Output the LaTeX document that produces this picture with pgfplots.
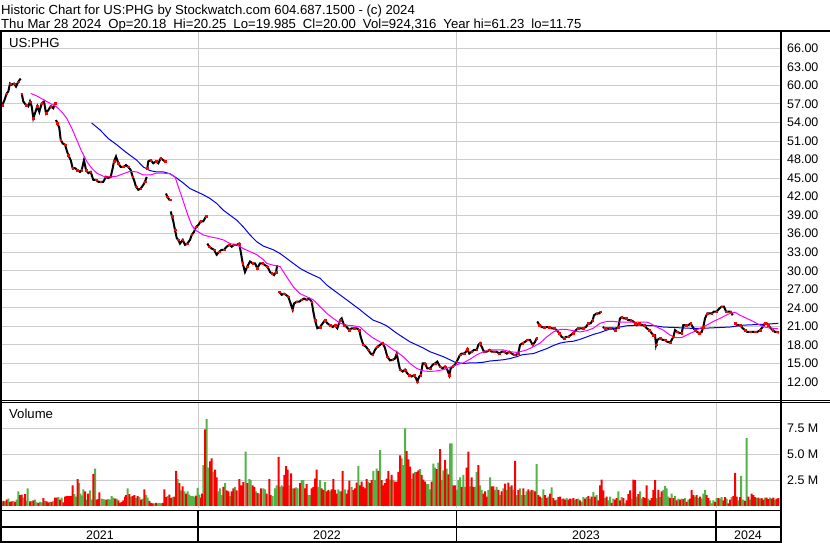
\documentclass[border=0pt]{standalone}
\usepackage{fontspec}
\setmainfont{Liberation Sans}
\usepackage{pgfplots}
\usepackage{pgfplotstable}
\pgfplotsset{compat=1.18}
\definecolor{gridgray}{RGB}{204,204,204}
\definecolor{vgreen}{RGB}{80,180,70}
\definecolor{vred}{RGB}{250,0,0}
\definecolor{mamag}{RGB}{255,0,255}
\definecolor{mablue}{RGB}{0,0,235}
\newcommand\ff{\fontsize{12.5}{14}\selectfont}
\newcommand\ft{\fontsize{13.2}{15}\selectfont}

\pgfplotstableread{
x y
2 56.8
4 57.4
6.7 58.7
8.3 59.0
10 60.3
11.7 60.1
14 60.3
16 59.8
18.3 60.6
20.7 61.1
21.2 nan
21.7 58.7
23.3 57.4
26 56.8
28.3 56.6
30 57.4
31.7 56.6
33.3 54.7
35 55.5
37.3 56.6
39.3 55.7
41.7 57.1
44 57.4
46 55.5
48.3 56.0
50.7 56.6
53.3 56.3
55 57.1
55.5 nan
56 54.4
57.3 53.9
59.3 53.1
60.7 51.2
62.7 50.6
65 50.4
66.7 49.5
68.3 48.7
70.7 47.9
72.7 46.6
75 46.6
77.3 46.3
80 46.0
81.7 46.3
84 47.9
86 46.3
88.3 45.8
90.7 46.0
93.3 44.7
96 44.7
98.3 44.4
100.7 44.4
103.3 44.4
106 45.2
108.3 45.0
110.7 45.2
112.7 46.6
114 47.7
116 48.5
118.3 47.4
120.7 46.8
123.3 46.8
126 47.1
128.3 46.8
130.7 46.3
132.7 45.2
134 44.7
136 43.6
138.3 43.1
140.7 43.3
143.3 43.9
145 44.4
146.7 45.2
147 nan
147.3 46.6
148.3 47.7
150.7 47.9
153.3 47.4
156 47.7
158.3 47.4
160.7 48.2
163.3 47.9
165 47.7
165.5 nan
166 42.5
167.3 42.0
169.3 41.5
170 41.5
170.3 nan
170.7 39.6
172 38.8
173.3 38.0
175 36.6
176.7 35.3
178.3 35.0
180 34.4
182.7 35.0
185 34.2
187.3 34.4
190 35.0
191.7 35.8
194 36.3
196 37.1
198.3 37.4
200.7 38.0
203.3 38.0
206 38.8
206.6 nan
207.3 34.4
209.3 33.9
211.7 33.6
214 33.4
216.7 32.6
219.3 33.1
221.7 33.4
224 33.4
226.7 33.9
229.3 34.2
231.7 33.9
234 34.2
236.7 34.2
239.3 34.4
240.7 33.1
242.7 31.2
245 29.8
247.3 30.7
250 31.5
252.7 31.2
255 31.2
257.3 30.4
260 31.2
262.7 31.2
265 30.9
267.3 30.7
270 29.8
271.7 29.6
274 29.3
276 29.8
277.3 30.9
278.3 nan
279.3 26.6
281.7 26.1
284 26.3
286 26.1
288.3 25.8
290 25.0
292.7 23.7
294 24.7
296.7 25.0
299.3 25.0
301.7 25.3
304 25.5
306.7 25.3
309.3 25.5
311.7 25.0
313.3 23.4
315 22.0
317.3 20.7
320 20.9
322.7 21.5
325 22.0
327.3 21.5
330 21.2
332.7 20.9
335 21.2
337.3 20.7
340 22.0
341.7 22.3
344 21.2
346.7 20.9
349.3 20.4
351.7 20.7
354 20.7
356.7 20.7
359.3 20.4
360.7 19.3
363.3 18.0
366 17.7
368.3 17.2
370.7 16.6
372.7 16.4
375 17.2
377.3 17.7
380 18.0
382.7 18.3
385 17.5
387.3 16.1
390 15.5
392.7 15.6
395 15.8
396.7 16.6
398.3 15.3
400 14.0
402.7 13.7
405 14.0
407.3 13.4
409.3 13.1
411.7 12.9
414 13.1
416 12.6
417.3 12.1
419.3 12.9
420.7 13.1
422.7 15.0
425 15.0
427.3 14.2
430 14.2
432.7 14.8
435 15.0
437.3 15.3
440 14.5
442.7 14.2
445 14.5
447.3 14.0
449.3 13.1
450.7 14.2
452.7 14.5
455 14.8
456.7 15.3
458.3 15.8
460 16.4
461.7 16.6
464 16.6
466 16.9
467.3 17.3
469.3 16.6
471.7 16.9
474 17.2
476.7 17.2
478.3 18.0
480 18.3
481.7 17.7
484 16.9
486.7 16.9
489.3 17.2
491.7 16.9
494 16.9
496.7 16.9
499.3 16.6
501.7 16.9
504 16.9
506.7 16.6
509.3 16.9
511.7 16.6
514 16.4
516 16.4
518.3 16.6
520 18.0
522.7 18.3
525 18.5
527.3 18.8
530 18.8
532.7 18.0
535 18.5
536.7 19.1
537 nan
537.3 21.8
539.3 21.2
541.7 20.9
544 20.9
546.7 20.9
549.3 20.9
551.7 20.7
554 20.7
556.7 20.4
559.3 19.9
561.7 19.3
564 19.1
566 19.3
568.3 19.3
570.7 19.6
573.3 19.9
576 20.4
578.3 20.7
580.7 20.7
583.3 20.7
586 20.9
588.3 21.5
590.7 21.5
592.7 22.0
594 22.8
596.7 23.1
599.3 23.1
600.7 23.4
601.7 nan
602.7 20.9
605 20.7
607.3 20.7
610 20.7
612.7 20.7
615 20.4
616.7 20.7
618.3 20.9
620 22.3
621.7 22.5
624 22.3
626 22.3
628.3 22.0
630.7 22.0
633.3 21.8
635 21.5
636.7 21.2
639.3 21.5
641.7 21.2
644 21.2
646.7 20.7
649.3 20.4
651.7 19.9
653.3 19.6
655 19.6
656 18.0
657.3 18.8
660 19.1
662.7 18.8
665 18.8
667.3 18.5
670 18.4
671.7 18.8
673.3 19.3
675 20.4
677.3 20.1
680 19.9
681.7 19.9
683.3 21.2
686 21.2
688.3 21.2
690.7 21.5
692.7 20.9
695 20.4
697.3 20.1
699.3 19.9
701.7 20.1
703.3 20.9
705 22.3
707.3 23.1
709.3 23.1
711.7 23.1
714 23.4
716.7 23.4
719.3 23.9
721.7 24.2
724 24.2
726 23.4
728.3 23.4
730.7 23.4
732.7 22.8
733.8 nan
735 21.5
737.3 21.2
740 21.2
742.7 20.7
745 20.4
747.3 20.1
750 20.1
752.7 20.1
755 20.1
757.3 20.1
760 20.4
762.7 20.9
765 21.5
766.7 21.5
768.3 21.2
770.7 20.7
772.7 20.4
775 20.1
777.3 20.1
779 20.0
}\pricetab

\pgfplotstableread{
x y
30.7 58.7
36.7 58.3
43.3 57.7
50 57.1
56.7 56.5
61.7 55.7
66.7 54.7
71.7 53.1
76.7 51.2
81.7 49.3
86.7 47.7
91.7 46.6
96.7 45.8
103.3 45.3
110 45.2
116.7 45.3
123.3 45.7
130 46.1
136.7 46.0
143.3 45.5
150 45.5
156.7 45.8
163.3 45.8
170 45.7
175 45.2
178.3 43.6
181.7 42.0
185 40.4
188.3 38.8
191.7 37.4
195 36.6
198.3 36.3
203.3 35.8
210 35.5
216.7 35.3
223.3 35.0
230 34.4
236.7 34.2
243.3 33.6
250 33.1
256.7 32.6
263.3 31.8
266.7 31.2
273.3 30.9
280 30.7
286.7 29.0
293.3 27.4
300 26.3
306.7 25.8
313.3 25.3
320 24.2
326.7 23.1
333.3 22.3
340 21.5
346.7 21.2
353.3 21.1
360 20.9
366.7 19.9
373.3 19.1
380 18.5
386.7 18.0
393.3 17.2
396.7 16.9
403.3 16.1
410 15.0
416.7 14.2
423.3 13.8
430 13.7
436.7 13.8
443.3 14.0
450 14.4
456.7 14.8
463.3 15.1
470 15.7
476.7 16.4
483.3 16.9
490 17.2
496.7 17.2
503.3 17.2
510 16.9
516.7 16.8
520 16.9
526.7 17.2
533.3 17.7
540 18.3
546.7 19.3
553.3 20.1
560 20.5
566.7 20.5
573.3 20.3
580 20.1
586.7 20.3
593.3 20.7
600 21.5
606.7 21.8
613.3 21.8
620 21.7
633.3 21.7
646.7 21.7
650 21.5
656.7 20.9
663.3 20.4
670 19.6
675 19.2
681.7 19.2
686.7 19.6
693.3 20.1
700 20.7
706.7 21.2
713.3 21.8
720 22.3
728.3 23.0
735 23.3
740 22.8
746.7 22.3
753.3 21.8
760 21.2
766.7 20.8
773.3 20.7
778.3 20.6
}\magtab

\pgfplotstableread{
x y
91.7 53.9
100 52.8
108.3 51.4
116.7 50.4
125 49.3
130 48.7
136.7 47.9
143.3 46.8
150 46.2
156.7 46.0
163.3 46.0
170 45.7
176.7 45.0
183.3 44.2
190 43.3
196.7 42.8
203.3 42.3
210 41.7
216.7 40.9
223.3 39.8
230 39.0
236.7 38.2
243.3 37.1
250 35.8
256.7 34.7
263.3 34.0
273.3 33.4
280 32.8
286.7 32.0
293.3 31.2
300 30.4
306.7 29.8
313.3 29.3
320 28.8
326.7 27.7
333.3 26.9
340 26.1
346.7 25.3
353.3 24.5
360 23.7
366.7 22.8
373.3 22.0
380 21.6
386.7 21.1
393.3 20.3
396.7 19.9
403.3 19.2
410 18.5
416.7 18.0
423.3 17.5
430 16.9
436.7 16.5
443.3 16.1
450 15.6
455 15.2
463.3 15.0
470 15.1
476.7 15.1
483.3 15.2
490 15.4
496.7 15.5
503.3 15.6
510 15.8
516.7 16.1
522 16.4
526.7 16.5
533.3 16.6
540 17.0
546.7 17.4
553.3 17.9
560 18.3
566.7 18.5
573.3 18.6
580 18.9
586.7 19.3
593.3 19.7
600 20.0
606.7 20.4
613.3 20.7
620 20.9
626.7 21.1
640 21.2
655 21.1
663.3 20.9
676.7 20.8
690 20.7
703.3 20.7
716.7 20.8
730 20.9
743.3 21.2
756.7 21.3
770 21.4
778.3 21.5
}\bluetab

\pgfplotstableread{
x y
3.3 0.5
6.7 0.6
10 0.4
11.7 0.45
15 0.4
20 1.05
21.7 1.1
25 1.15
30 0.45
33.3 0.55
38.3 0.3
43.3 0.75
46.7 0.45
48.3 0.35
51.7 0.4
55 0.8
56.7 0.8
60 0.6
63.3 0.35
65 0.9
66.7 0.95
68.3 0.95
70 0.95
71.7 0.95
72.7 2.0
77.7 2.6
85 1.4
88 1.2
93.3 3.1
96.7 0.6
98.3 0.65
99.3 1.3
106.7 0.6
115 0.7
118.3 0.55
120 0.3
121.7 0.4
123.3 0.55
125 0.9
126 1.05
129.3 1.15
132.7 0.95
134.3 1.05
137.7 0.95
141 0.6
144.3 1.6
149.3 0.5
151 0.3
152.7 0.25
156 0.3
162.7 0.3
164.3 1.6
166 0.85
169.3 1.1
171 0.75
174.3 0.9
176 3.4
179.3 2.2
182.7 1.9
186 1.2
196 1.0
201 0.8
202 1.2
205 7.4
210 4.3
211.7 4.6
215 3.5
216.7 2.75
223.3 1.85
226.7 1.5
228.3 1.4
231.7 1.4
233.3 1.7
236.7 1.5
239.3 2.6
241 2.0
243.3 2.3
247.3 2.2
252.7 2.0
254.3 1.85
257.7 1.25
261 1.7
266.7 1.2
269.3 2.6
270.7 1.05
278.7 4.75
283.3 1.85
284.3 3.0
286 3.85
287.7 3.5
291 3.15
294.3 1.7
300 2.2
305 1.7
306.7 2.1
311.7 1.7
313.3 1.85
315 2.65
316.7 3.5
321.7 1.7
323.3 1.55
326.7 1.4
328.3 1.55
331.7 1.6
333.3 2.6
335 1.55
336.7 1.2
341.7 1.4
342.7 3.4
346.7 1.2
348.3 1.55
349.3 2.45
353.3 1.55
355 1.7
356.7 2.25
360 2.0
361.7 2.35
363.3 1.85
365 1.7
366.7 2.6
370 2.2
371.7 2.5
378.3 3.4
381.7 2.5
383.3 2.0
385 2.2
386.7 2.65
388.3 3.4
391.7 3.0
395 2.35
396.7 2.35
398.3 3.3
400 4.9
406.7 5.3
408.3 4.5
410 3.8
413.3 3.15
416.7 3.3
418.3 3.45
421.7 3.0
423.3 2.55
425 2.35
431.7 2.35
436.7 3.55
440 5.5
445 4.45
448.3 3.05
453.3 2.0
455 2.0
461.7 1.85
466.7 3.7
468.3 5.25
471.7 2.75
473.3 1.85
478.3 3.95
483.3 1.2
485 1.4
486.7 0.9
491.7 1.9
493.3 1.9
498.3 1.55
501.7 1.4
505 2.15
508.3 2.25
511.7 2.0
515 4.35
518.3 1.55
523.3 1.7
528.3 1.6
531.7 1.55
535 1.4
538.3 1.05
540 0.9
545 1.05
546.7 0.75
550 1.2
553.3 0.75
555 0.55
558.3 0.85
560 0.9
563.3 0.7
565 0.6
568.3 0.6
570 0.7
573.3 0.75
576.7 0.65
580 0.55
585 0.7
588.3 0.95
591.7 0.9
595 0.9
598.3 0.55
600 2.0
601.7 2.55
603.3 1.5
606.7 0.9
611.7 0.3
615 0.6
616.7 0.75
620 0.55
623.3 0.75
626.7 0.55
628.3 1.15
630 1.5
633.3 2.55
635 2.5
638.3 1.15
643.3 0.85
645 0.75
646.7 2.0
650 0.55
651.7 0.75
653.3 1.55
655 2.5
658.3 1.55
661.7 1.4
670 0.75
673.3 0.75
676.7 0.55
680 0.6
683.3 0.65
686.7 0.4
690 0.7
691.7 1.55
693.3 1.05
696.7 1.05
700 0.9
706.7 1.05
708.3 0.75
715 0.4
718.3 0.75
723.3 0.55
725 0.85
728.3 0.25
730 0.6
733.3 0.95
735 3.2
736.7 0.9
740 0.85
745 0.5
748.3 0.9
751.7 1.2
753.3 1.05
755 0.85
758.3 0.8
761.7 0.75
763.3 0.6
766.7 0.8
768.3 0.65
771.7 0.7
773.3 0.8
776.7 0.7
778.3 0.75
}\volred

\pgfplotstableread{
x y
1.7 0.4
5 0.45
8.3 0.7
13.3 0.5
16.7 0.6
18.3 1.4
23.3 0.8
26.7 0.5
27.7 1.7
31.7 0.5
35 0.6
36.7 0.35
40 0.4
41.7 0.35
45 0.5
50 0.4
53.3 0.5
58.3 0.85
61.7 0.8
74.3 1.15
76 0.9
79 2.2
80.3 1.2
81.7 1.0
83.3 1.6
86.7 0.6
90 1.5
91.7 0.6
95 3.6
101.7 0.7
103.3 0.65
105 0.6
108.3 0.65
110 0.6
111.7 0.95
113.3 0.8
116.7 0.7
127.7 1.7
131 0.9
136 0.75
139.3 0.85
142.7 0.7
146 1.05
147.7 0.8
154.3 0.25
157.7 0.25
159.3 0.3
161 0.25
167.7 0.95
172.7 0.85
177.7 2.6
181 1.5
184.3 1.4
187.7 1.4
189.3 1.1
191 0.95
192.7 0.95
194.3 0.9
197.7 1.75
199.3 1.1
203.3 3.95
206.7 8.4
208.3 3.7
213.3 3.3
218.3 1.4
220 1.7
221.7 1.05
225 2.2
230 0.95
235 1.85
245.7 5.25
249.3 2.6
250.7 2.5
256 1.4
259.3 1.2
263.3 1.7
265 1.6
272.7 0.95
275 1.7
276.7 2.0
280 1.85
281.7 2.0
289.3 2.0
292.7 1.7
296 1.8
297.7 1.7
301.7 2.5
303.3 2.5
308.3 1.05
310 1.05
318.3 1.85
320 2.5
325 2.3
330 1.4
338.3 1.6
340 1.4
345 1.6
351.7 1.85
358.3 3.85
368.3 2.35
373.3 3.4
375 2.5
376.7 3.6
380 5.4
390 2.55
393.3 2.5
401.7 4.6
403.3 3.95
405 7.5
411.7 2.65
415 3.3
420 3.55
426.7 2.1
428.3 2.1
430 1.6
433.3 4.1
435 3.7
438.3 4.2
441.7 2.5
443.3 3.45
446.7 3.6
450 6.05
451.7 6.05
456.7 1.55
458.3 2.5
460 2.75
463.3 3.0
465 1.85
470 1.9
475 1.85
476.7 3.3
480 2.0
481.7 1.55
488.3 1.55
490 2.75
495 1.55
496.7 1.85
500 1.05
503.3 1.7
506.7 1.55
510 1.85
513.3 1.55
516.7 1.05
520 1.7
521.7 1.05
525 1.05
526.7 1.4
530 1.4
533.3 1.5
536.7 4.05
541.7 0.75
543.3 1.6
548.3 0.9
551.7 1.8
556.7 0.6
561.7 0.65
566.7 0.75
571.7 0.65
575 0.6
578.3 0.7
581.7 0.4
583.3 0.85
586.7 0.85
590 0.7
593.3 1.35
596.7 1.05
605 0.75
608.3 0.55
610 0.9
613.3 0.7
618.3 1.4
621.7 0.85
625 0.25
631.7 0.7
636.7 0.9
640 1.4
641.7 0.7
648.3 0.7
656.7 0.75
660 0.85
663.3 1.55
665 1.95
666.7 1.7
668.3 0.9
671.7 1.2
675 0.95
678.3 0.7
681.7 0.7
685 0.75
688.3 0.6
695 0.9
698.3 0.75
701.7 0.7
703.3 1.2
705 1.55
710 0.55
711.7 0.25
713.3 0.55
716.7 0.75
720 0.7
721.7 0.85
726.7 0.7
731.7 0.85
738.3 0.55
741 2.9
743.3 0.6
746.7 6.55
750 0.6
756.7 0.75
760 0.7
765 0.8
770 0.8
775 0.6
}\volgreen

\begin{document}
\begin{tikzpicture}
\useasboundingbox[fill=white] (0,0) rectangle (830bp,-543bp);
% ---------------- price panel
\begin{axis}[
  at={(2bp,-31bp)}, anchor=north west, scale only axis,
  width=778bp, height=369bp,
  xmin=2, xmax=780, ymin=9.09, ymax=68.80,
  axis line style={draw=none},
  xtick={198,456.5,716}, xticklabels={}, xmajorgrids,
  ytick={12,15,...,66}, ymajorgrids,
  grid style={gridgray, line width=1bp},
  major tick length=0pt,
  yticklabel pos=right,
  /pgf/number format/.cd, fixed, fixed zerofill, precision=2, assume math mode=true,
  /pgfplots/.cd,
  yticklabel style={font=\ff, anchor=west, inner sep=0pt, xshift=7bp},
  clip=true,
]
\addplot[black, line width=2bp, unbounded coords=jump] table[x=x,y=y] {\pricetab};
\addplot[only marks, mark=square*, mark size=0.7bp, vred, mark repeat=2, mark phase=1] table[x=x,y=y] {\pricetab};
\addplot[mablue, line width=1bp] table[x=x,y=y] {\bluetab};
\addplot[mamag, line width=1bp] table[x=x,y=y] {\magtab};
\end{axis}
% ---------------- volume panel
\begin{axis}[
  at={(2bp,-402bp)}, anchor=north west, scale only axis,
  width=778bp, height=106bp,
  xmin=2, xmax=780, ymin=-0.2, ymax=10.05,
  axis line style={draw=none},
  xtick={198,456.5,716}, xticklabels={}, xmajorgrids,
  ytick={2.5,5,7.5}, yticklabels={2.5 M,5.0 M,7.5 M}, ymajorgrids,
  grid style={gridgray, line width=1bp},
  major tick length=0pt,
  yticklabel pos=right,
  yticklabel style={font=\ff, anchor=west, inner sep=0pt, xshift=7bp},
  clip=true,
]
\addplot[ybar, bar width=2, bar shift=0pt, fill=vgreen, draw=none] table[x=x,y=y] {\volgreen};
\addplot[ybar, bar width=2, bar shift=0pt, fill=vred, draw=none] table[x=x,y=y] {\volred};
\end{axis}
% ---------------- frames
\draw[line width=2bp] (0,-31bp) -- (830bp,-31bp);
\draw[line width=1bp] (0,-400bp) -- (830bp,-400bp);
\draw[line width=1.6bp] (0,-402.3bp) -- (830bp,-402.3bp);
\draw[line width=1bp] (1bp,-510bp) -- (781bp,-510bp);
\draw[line width=2bp] (1bp,-527bp) -- (781bp,-527bp);
\draw[line width=2bp] (1bp,-542bp) -- (781bp,-542bp);
\draw[line width=2bp] (1bp,-31bp) -- (1bp,-543bp);
\draw[line width=2bp] (781bp,-31bp) -- (781bp,-543bp);
\foreach \xx in {198,456.5,716} \draw[line width=1.2bp] (\xx bp,-510bp) -- (\xx bp,-542bp);
% ---------------- texts
\node[anchor=base west, inner sep=0pt, font=\ft] at (1bp,-14bp) {Historic Chart for US:PHG by Stockwatch.com 604.687.1500 - (c) 2024};
\node[anchor=base west, inner sep=0pt, font=\ft] at (1bp,-28.3bp) {Thu Mar 28 2024\hspace{7bp}Op=20.18\hspace{7bp}Hi=20.25\hspace{7bp}Lo=19.985\hspace{7bp}Cl=20.00\hspace{7bp}Vol=924,316\hspace{7bp}Year hi=61.23\hspace{7bp}lo=11.75};
\node[anchor=base west, inner sep=0pt, font=\ft] at (9bp,-47bp) {US:PHG};
\node[anchor=base west, inner sep=0pt, font=\ft] at (9bp,-418bp) {Volume};
\node[anchor=base, inner sep=0pt, font=\ff] at (100bp,-539bp) {2021};
\node[anchor=base, inner sep=0pt, font=\ff] at (327bp,-539bp) {2022};
\node[anchor=base, inner sep=0pt, font=\ff] at (586bp,-539bp) {2023};
\node[anchor=base, inner sep=0pt, font=\ff] at (748bp,-539bp) {2024};
\end{tikzpicture}
\end{document}
